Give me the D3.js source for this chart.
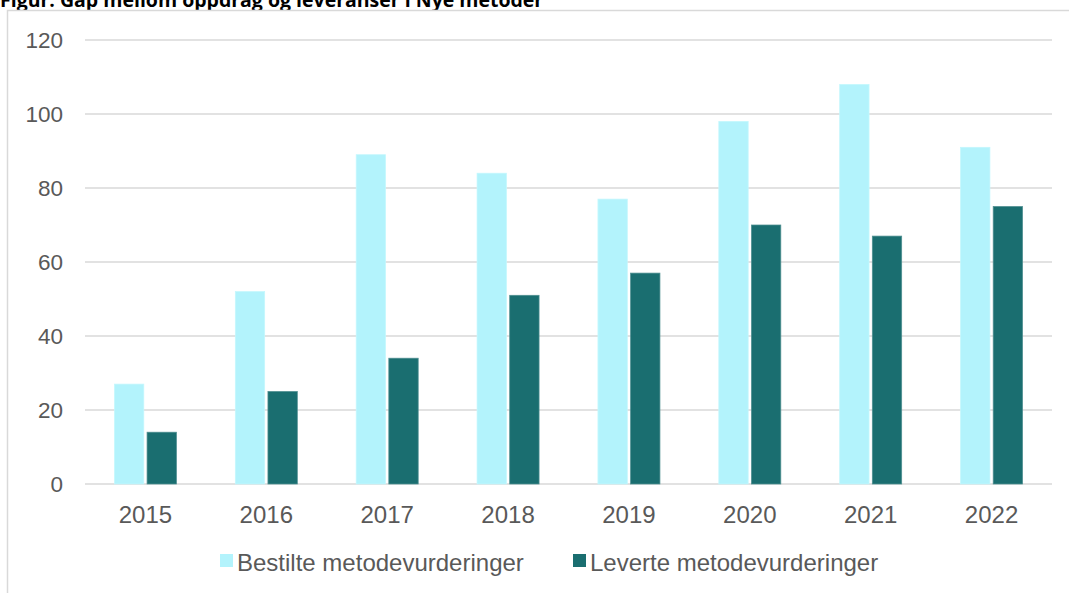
<!DOCTYPE html>
<html>
<head>
<meta charset="utf-8">
<script src="https://cdn.jsdelivr.net/npm/d3@7"></script>
<style>
  body { margin: 0; background: #fff; }
  svg { display: block; }
</style>
</head>
<body>
<svg id="chart"></svg>
<script>
// Data
const years = ["2015", "2016", "2017", "2018", "2019", "2020", "2021", "2022"];
const bestilte = [27, 52, 89, 84, 77, 98, 108, 91];
const leverte = [14, 25, 34, 51, 57, 70, 67, 75];
const seriesNames = ["Bestilte metodevurderinger", "Leverte metodevurderinger"];
const yTicks = [0, 20, 40, 60, 80, 100, 120];

const colors = ["#b3f3fc", "#1a6e70"];
const W = 1069, H = 593;
const font = "'Liberation Sans', Arial, sans-serif";

const svg = d3.select("#chart")
    .attr("width", W)
    .attr("height", H);

// Title, cut off at the top like in the reference
svg.append("text")
    .attr("x", 0)
    .attr("y", 7)
    .style("font-family", "'Open Sans', 'Liberation Sans', sans-serif")
    .style("font-weight", "bold")
    .style("font-size", "19.5px")
    .style("fill", "#000")
    .text("Figur: Gap mellom oppdrag og leveranser i Nye metoder");

// chart frame
svg.append("rect")
    .attr("x", 7.5)
    .attr("y", 10.5)
    .attr("width", W + 10)
    .attr("height", H + 10)
    .attr("fill", "#fff")
    .attr("stroke", "#d9d9d9")
    .attr("stroke-width", 1.5);

const margin = { left: 85, right: 1052, top: 40, bottom: 484 };

const x = d3.scaleBand()
    .domain(years)
    .range([margin.left, margin.right]);

const y = d3.scaleLinear()
    .domain([0, 120])
    .range([margin.bottom, margin.top]);

// gridlines
svg.append("g")
    .selectAll("line")
    .data(yTicks)
    .enter()
    .append("line")
    .attr("x1", margin.left)
    .attr("x2", margin.right)
    .attr("y1", d => y(d))
    .attr("y2", d => y(d))
    .attr("stroke", "#d9d9d9")
    .attr("stroke-width", 1.5);

// y tick labels
svg.append("g")
    .selectAll("text")
    .data(yTicks)
    .enter()
    .append("text")
    .attr("x", 63)
    .attr("y", d => y(d) + 8)
    .attr("text-anchor", "end")
    .style("font-family", font)
    .style("font-size", "22.5px")
    .style("fill", "#595959")
    .text(d => d);

// bars
const inner = d3.scaleBand()
    .domain([0, 1])
    .range([0, 62])
    .paddingInner(0.1);
const groupOffset = (x.bandwidth() - 62) / 2;

const barData = years.flatMap((yr, i) => [
    { year: yr, s: 0, v: bestilte[i] },
    { year: yr, s: 1, v: leverte[i] }
]);

svg.append("g")
    .selectAll("rect")
    .data(barData)
    .enter()
    .append("rect")
    .attr("x", d => x(d.year) + groupOffset + inner(d.s))
    .attr("y", d => y(d.v))
    .attr("width", inner.bandwidth())
    .attr("height", d => y(0) - y(d.v))
    .attr("fill", d => colors[d.s])
    .attr("stroke", d => d.s === 0 ? "#c4f7fd" : "#4f8f91")
    .attr("stroke-width", 0.75);

// x labels
svg.append("g")
    .selectAll("text")
    .data(years)
    .enter()
    .append("text")
    .attr("x", d => x(d) + x.bandwidth() / 2)
    .attr("y", 522.5)
    .attr("text-anchor", "middle")
    .style("font-family", font)
    .style("font-size", "24px")
    .style("fill", "#595959")
    .text(d => d);

// legend
const legendX = [220, 573];
const legend = svg.append("g");
legend.selectAll("rect")
    .data(seriesNames)
    .enter()
    .append("rect")
    .attr("x", (d, i) => legendX[i])
    .attr("y", 554)
    .attr("width", 13)
    .attr("height", 13)
    .attr("fill", (d, i) => colors[i]);

legend.selectAll("text")
    .data(seriesNames)
    .enter()
    .append("text")
    .attr("x", (d, i) => legendX[i] + 17)
    .attr("y", 571)
    .style("font-family", font)
    .style("font-size", "24px")
    .style("fill", "#595959")
    .text(d => d);
</script>
</body>
</html>
